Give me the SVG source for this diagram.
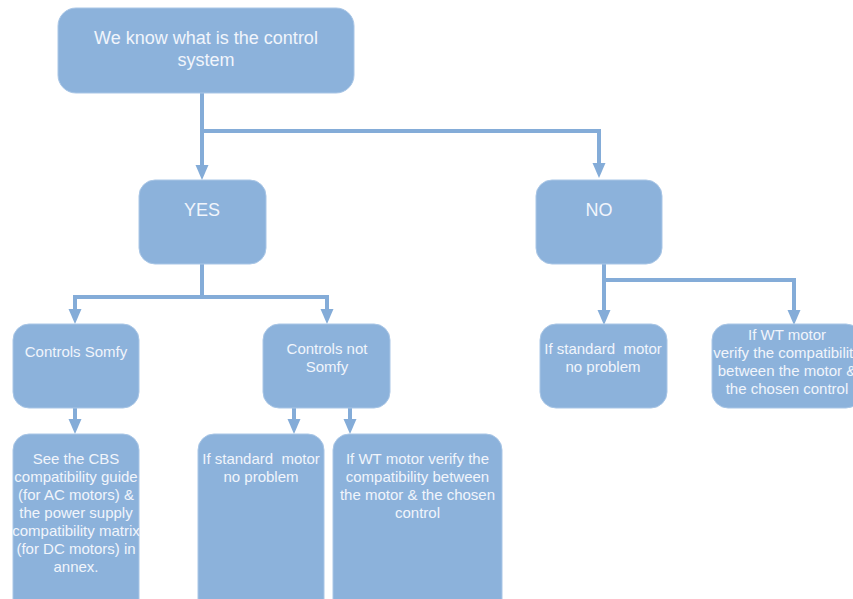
<svg xmlns="http://www.w3.org/2000/svg" width="853" height="599" viewBox="0 0 853 599">
<defs>
<marker id="ah" markerUnits="userSpaceOnUse" markerWidth="16" markerHeight="14" refX="6" refY="6.5" orient="auto">
<path d="M0,0 L15,6.5 L0,13 z" fill="#84acd8"/>
</marker>
<style>
.box{fill:#8cb2db;stroke:#a9c6e6;stroke-width:1}
.t{font-family:"Liberation Sans",Arial,sans-serif;font-size:15px;fill:#f1f5fb;text-anchor:middle;white-space:pre}
.big{font-size:18px}
.c{fill:none;stroke:#84acd8;stroke-width:4;stroke-linejoin:miter}
.a{marker-end:url(#ah)}
</style>
</defs>
<rect width="853" height="599" fill="#ffffff"/>
<g id="connectors">
<path class="c a" d="M202,93 V171"/>
<path class="c a" d="M202,131 H599 V169"/>
<path class="c" d="M202,264 V297"/>
<path class="c a" d="M202,297 H75 V315"/>
<path class="c a" d="M202,297 H327 V315"/>
<path class="c a" d="M75,408 V425"/>
<path class="c a" d="M294,408 V425"/>
<path class="c a" d="M350,408 V425"/>
<path class="c" d="M604,264 V280"/>
<path class="c a" d="M604,280 V316"/>
<path class="c a" d="M604,280 H794 V316"/>
</g>
<g id="n-top">
<rect class="box" x="58" y="8" width="296" height="85" rx="18"/>
<text class="t big" x="206" y="44">We know what is the control</text>
<text class="t big" x="206" y="66">system</text>
</g>
<g id="n-yes">
<rect class="box" x="139" y="180" width="127" height="84" rx="16"/>
<text class="t big" x="202" y="216">YES</text>
</g>
<g id="n-no">
<rect class="box" x="536" y="180" width="126" height="84" rx="16"/>
<text class="t big" x="599" y="216">NO</text>
</g>
<g id="n-somfy">
<rect class="box" x="13" y="324" width="126" height="84" rx="16"/>
<text class="t" x="76" y="357">Controls Somfy</text>
</g>
<g id="n-notsomfy">
<rect class="box" x="263" y="324" width="127" height="84" rx="16"/>
<text class="t" x="327" y="354">Controls not</text>
<text class="t" x="327" y="372">Somfy</text>
</g>
<g id="n-cbs">
<rect class="box" x="13" y="434" width="126" height="190" rx="16"/>
<text class="t" x="76" y="464">See the CBS</text>
<text class="t" x="76" y="482">compatibility guide</text>
<text class="t" x="76" y="500">(for AC motors) &amp;</text>
<text class="t" x="76" y="518">the power supply</text>
<text class="t" x="76" y="536">compatibility matrix</text>
<text class="t" x="76" y="554">(for DC motors) in</text>
<text class="t" x="76" y="572">annex.</text>
</g>
<g id="n-std1">
<rect class="box" x="198" y="434" width="126" height="190" rx="16"/>
<text class="t" x="261" y="464">If standard  motor</text>
<text class="t" x="261" y="482">no problem</text>
</g>
<g id="n-wt1">
<rect class="box" x="333" y="434" width="169" height="190" rx="16"/>
<text class="t" x="417.5" y="464">If WT motor verify the</text>
<text class="t" x="417.5" y="482">compatibility between</text>
<text class="t" x="417.5" y="500">the motor &amp; the chosen</text>
<text class="t" x="417.5" y="518">control</text>
</g>
<g id="n-std2">
<rect class="box" x="540" y="324" width="127" height="84" rx="16"/>
<text class="t" x="603" y="354">If standard  motor</text>
<text class="t" x="603" y="372">no problem</text>
</g>
<g id="n-wt2">
<rect class="box" x="712" y="324" width="150" height="84" rx="16"/>
<text class="t" x="787" y="340">If WT motor</text>
<text class="t" x="787" y="358">verify the compatibility</text>
<text class="t" x="787" y="376">between the motor &amp;</text>
<text class="t" x="787" y="394">the chosen control</text>
</g>
</svg>
